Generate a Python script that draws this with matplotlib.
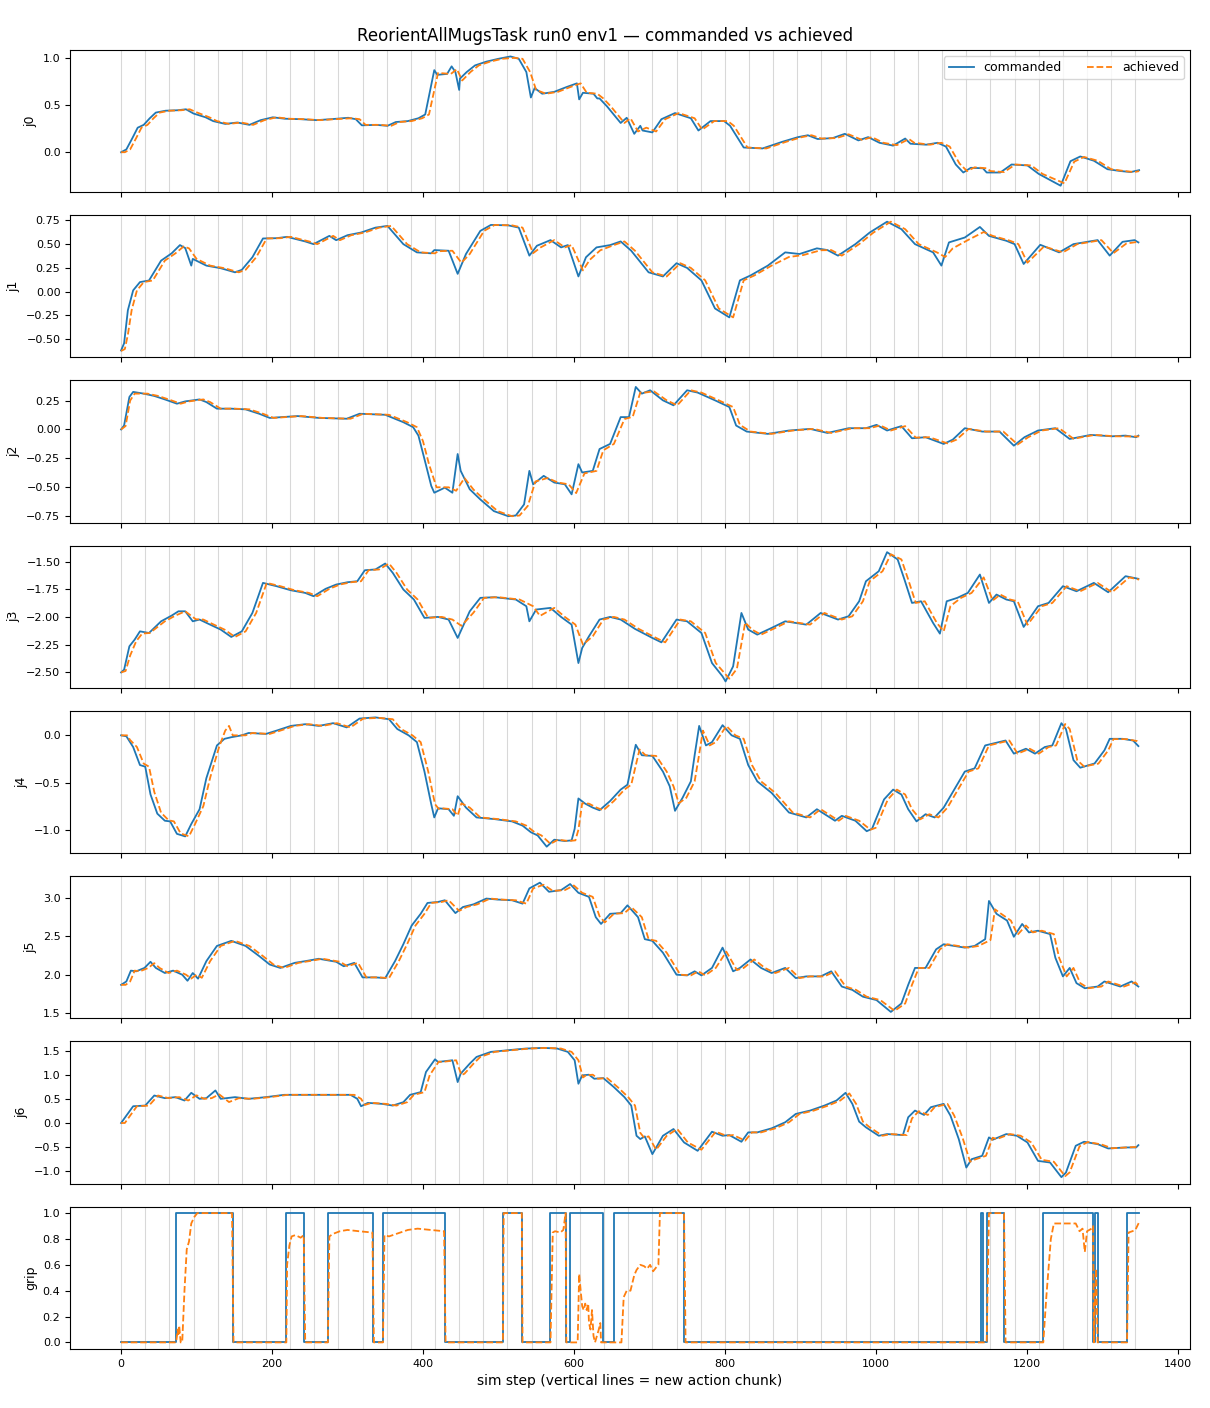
import numpy as np
import matplotlib
matplotlib.use('Agg')
import matplotlib.pyplot as plt

# ── Run info ───────────────────────────────────────────────────────────────
TASK = 'ReorientAllMugsTask'
RUN, ENV = 0, 1
N_STEPS = 1350
CHUNK_LEN = 32

# ── Joint traces (step, value) ───────────────────────
j0_cmd_t = [0, 7, 15, 22, 30, 38, 46, 59, 75, 86, 96, 112, 122, 138, 154, 170, 185, 201, 217, 238,
            259, 278, 301, 311, 319, 338, 353, 364, 380, 394, 403, 415, 419, 432, 438, 443, 448, 449, 458, 469,
            484, 500, 516, 527, 537, 543, 548, 558, 574, 590, 604, 607, 612, 626, 631, 634, 644, 662, 670, 680,
            688, 691, 704, 716, 734, 755, 765, 781, 799, 807, 825, 850, 876, 897, 910, 923, 943, 959, 977, 990,
            1005, 1023, 1039, 1046, 1067, 1082, 1093, 1106, 1116, 1126, 1142, 1147, 1165, 1180, 1201, 1216, 1245, 1258, 1271, 1289,
            1307, 1325, 1338, 1349]
j0_cmd = [0.0, 0.03, 0.15, 0.26, 0.29, 0.36, 0.42, 0.44, 0.445, 0.455, 0.41, 0.37, 0.33, 0.30, 0.315, 0.29, 0.34, 0.37, 0.355, 0.35,
          0.34, 0.35, 0.365, 0.35, 0.285, 0.29, 0.28, 0.32, 0.33, 0.36, 0.40, 0.87, 0.82, 0.83, 0.91, 0.85, 0.66, 0.78, 0.85, 0.92,
          0.96, 0.99, 1.015, 0.99, 0.85, 0.58, 0.68, 0.62, 0.64, 0.69, 0.73, 0.56, 0.63, 0.62, 0.57, 0.57, 0.485, 0.31, 0.365, 0.195,
          0.28, 0.23, 0.21, 0.35, 0.415, 0.36, 0.23, 0.33, 0.33, 0.28, 0.05, 0.04, 0.11, 0.16, 0.18, 0.14, 0.15, 0.195, 0.125, 0.16,
          0.10, 0.07, 0.145, 0.09, 0.08, 0.10, 0.06, -0.13, -0.215, -0.165, -0.17, -0.215, -0.215, -0.13, -0.14, -0.23, -0.355, -0.095, -0.045, -0.09,
          -0.18, -0.2, -0.21, -0.19]
j0_ach_t = [0, 5, 12, 20, 27, 35, 43, 51, 64, 80, 91, 101, 117, 127, 143, 159, 175, 190, 206, 222,
            243, 264, 283, 306, 316, 324, 343, 358, 369, 385, 399, 408, 420, 437, 445, 452, 463, 474, 489, 505,
            521, 532, 542, 550, 563, 579, 595, 609, 617, 631, 639, 649, 667, 675, 685, 696, 709, 721, 739, 760,
            770, 786, 804, 812, 830, 855, 881, 902, 915, 928, 948, 964, 982, 995, 1010, 1028, 1044, 1051, 1072, 1087,
            1098, 1111, 1121, 1131, 1147, 1152, 1170, 1185, 1206, 1221, 1250, 1263, 1276, 1294, 1312, 1330, 1343, 1349]
j0_ach = [0.0, 0.0, 0.03, 0.15, 0.26, 0.29, 0.36, 0.42, 0.44, 0.445, 0.455, 0.42, 0.37, 0.33, 0.30, 0.315, 0.29, 0.34, 0.37, 0.355,
          0.35, 0.34, 0.35, 0.36, 0.35, 0.29, 0.29, 0.28, 0.32, 0.33, 0.36, 0.40, 0.84, 0.83, 0.88, 0.76, 0.85, 0.92, 0.96, 0.99,
          1.0, 0.99, 0.85, 0.66, 0.62, 0.64, 0.69, 0.73, 0.63, 0.62, 0.57, 0.485, 0.31, 0.36, 0.22, 0.26, 0.22, 0.35, 0.415, 0.36,
          0.24, 0.33, 0.33, 0.28, 0.05, 0.04, 0.11, 0.16, 0.18, 0.145, 0.15, 0.19, 0.13, 0.16, 0.10, 0.075, 0.14, 0.10, 0.08, 0.10,
          0.06, -0.12, -0.20, -0.16, -0.17, -0.20, -0.21, -0.13, -0.14, -0.23, -0.33, -0.10, -0.05, -0.09, -0.18, -0.2, -0.21, -0.2]

j1_cmd_t = [0, 4, 9, 16, 25, 37, 53, 67, 78, 85, 93, 95, 113, 132, 151, 160, 174, 188, 206, 220,
            244, 255, 276, 285, 300, 318, 337, 353, 374, 392, 411, 415, 434, 446, 457, 476, 490, 513, 527, 541,
            551, 569, 583, 592, 606, 616, 630, 648, 662, 676, 699, 718, 736, 750, 769, 787, 806, 820, 834, 857,
            880, 899, 922, 936, 950, 973, 992, 1015, 1034, 1052, 1076, 1087, 1097, 1118, 1138, 1150, 1173, 1184, 1196, 1218,
            1243, 1262, 1294, 1310, 1327, 1343, 1348]
j1_cmd = [-0.615, -0.54, -0.195, 0.012, 0.098, 0.115, 0.322, 0.398, 0.484, 0.453, 0.27, 0.34, 0.27, 0.243, 0.2, 0.226, 0.357, 0.553, 0.556, 0.57,
          0.522, 0.494, 0.58, 0.535, 0.587, 0.615, 0.666, 0.684, 0.494, 0.408, 0.398, 0.432, 0.425, 0.184, 0.391, 0.632, 0.694, 0.69, 0.666, 0.374,
          0.477, 0.536, 0.46, 0.484, 0.157, 0.357, 0.46, 0.484, 0.522, 0.425, 0.2, 0.157, 0.295, 0.246, 0.116, -0.177, -0.27, 0.116, 0.167, 0.27,
          0.408, 0.391, 0.45, 0.432, 0.374, 0.494, 0.615, 0.728, 0.65, 0.494, 0.408, 0.27, 0.512, 0.563, 0.673, 0.58, 0.529, 0.494, 0.287, 0.487,
          0.408, 0.494, 0.536, 0.374, 0.518, 0.536, 0.512]
j1_ach_t = [0, 5, 9, 14, 21, 30, 42, 58, 72, 83, 90, 100, 118, 137, 156, 165, 179, 193, 211, 225,
            249, 260, 281, 290, 305, 323, 342, 358, 379, 397, 416, 420, 439, 451, 462, 481, 495, 518, 532, 546,
            556, 574, 588, 597, 612, 621, 635, 653, 667, 681, 704, 723, 741, 755, 774, 792, 811, 825, 839, 862,
            885, 904, 927, 941, 955, 978, 997, 1020, 1039, 1057, 1081, 1092, 1102, 1123, 1143, 1155, 1178, 1189, 1201, 1223,
            1248, 1267, 1299, 1315, 1332, 1349]
j1_ach = [-0.62, -0.6, -0.45, -0.195, 0.012, 0.098, 0.115, 0.322, 0.398, 0.47, 0.45, 0.34, 0.27, 0.243, 0.2, 0.226, 0.357, 0.553, 0.556, 0.57,
          0.522, 0.494, 0.58, 0.535, 0.587, 0.615, 0.666, 0.684, 0.494, 0.408, 0.398, 0.42, 0.425, 0.30, 0.391, 0.632, 0.694, 0.69, 0.666, 0.40,
          0.46, 0.536, 0.46, 0.484, 0.22, 0.33, 0.43, 0.484, 0.522, 0.425, 0.2, 0.157, 0.295, 0.246, 0.116, -0.177, -0.27, 0.116, 0.167, 0.27,
          0.36, 0.38, 0.43, 0.432, 0.374, 0.494, 0.615, 0.728, 0.65, 0.494, 0.408, 0.36, 0.45, 0.54, 0.62, 0.58, 0.529, 0.494, 0.3, 0.47,
          0.408, 0.494, 0.536, 0.40, 0.50, 0.52]

j2_cmd_t = [0, 4, 11, 16, 30, 44, 58, 74, 85, 104, 113, 127, 146, 165, 183, 197, 234, 262, 299, 316,
            350, 374, 387, 394, 402, 411, 415, 429, 439, 446, 450, 462, 476, 494, 513, 523, 534, 541, 546, 560,
            574, 588, 597, 606, 611, 625, 634, 648, 662, 673, 682, 690, 701, 718, 732, 750, 764, 787, 806, 815,
            829, 857, 885, 913, 936, 964, 987, 1001, 1015, 1034, 1048, 1066, 1090, 1102, 1118, 1141, 1164, 1183, 1197, 1215,
            1238, 1257, 1285, 1313, 1331, 1345, 1348]
j2_cmd = [0.0, 0.035, 0.281, 0.325, 0.31, 0.29, 0.26, 0.223, 0.243, 0.26, 0.237, 0.18, 0.18, 0.174, 0.136, 0.1, 0.116, 0.1, 0.093, 0.136,
          0.127, 0.063, 0.02, -0.053, -0.256, -0.488, -0.547, -0.503, -0.547, -0.212, -0.358, -0.517, -0.605, -0.706, -0.75, -0.744, -0.648, -0.358, -0.474, -0.401,
          -0.459, -0.474, -0.561, -0.3, -0.372, -0.358, -0.169, -0.125, 0.107, 0.107, 0.368, 0.31, 0.339, 0.252, 0.209, 0.339, 0.319, 0.252, 0.194, 0.034,
          -0.018, -0.038, -0.009, 0.005, -0.03, 0.011, 0.011, 0.04, -0.009, 0.029, -0.076, -0.067, -0.125, -0.088, 0.011, -0.018, -0.018, -0.14, -0.067, -0.009,
          0.011, -0.082, -0.047, -0.059, -0.053, -0.067, -0.053]
j2_ach_t = [0, 6, 12, 18, 35, 49, 63, 79, 90, 109, 118, 132, 151, 170, 188, 202, 239, 267, 304, 321,
            355, 379, 392, 400, 408, 418, 425, 434, 444, 455, 467, 481, 499, 518, 528, 539, 549, 565, 579, 593,
            603, 614, 630, 639, 653, 667, 678, 688, 695, 706, 723, 737, 755, 769, 792, 811, 820, 834, 862, 890,
            918, 941, 969, 992, 1006, 1020, 1039, 1053, 1071, 1095, 1107, 1123, 1146, 1169, 1188, 1202, 1220, 1243, 1262, 1290,
            1318, 1336, 1349]
j2_ach = [0.0, 0.03, 0.25, 0.31, 0.31, 0.29, 0.26, 0.223, 0.243, 0.26, 0.237, 0.18, 0.18, 0.174, 0.136, 0.1, 0.116, 0.1, 0.093, 0.136,
          0.127, 0.063, 0.02, -0.1, -0.3, -0.5, -0.5, -0.5, -0.53, -0.42, -0.52, -0.605, -0.706, -0.75, -0.744, -0.66, -0.45, -0.42, -0.459, -0.474,
          -0.55, -0.38, -0.358, -0.18, -0.125, 0.09, 0.11, 0.32, 0.32, 0.33, 0.252, 0.209, 0.339, 0.319, 0.252, 0.194, 0.04, -0.018, -0.038, -0.009,
          0.005, -0.03, 0.011, 0.011, 0.035, -0.009, 0.029, -0.07, -0.067, -0.12, -0.088, 0.005, -0.018, -0.018, -0.13, -0.067, -0.009, 0.011, -0.08, -0.047,
          -0.059, -0.06, -0.06]

j3_cmd_t = [0, 4, 11, 18, 25, 37, 53, 67, 76, 85, 95, 104, 118, 132, 146, 160, 174, 188, 206, 225,
            244, 255, 271, 285, 300, 313, 323, 337, 350, 360, 374, 388, 402, 420, 434, 446, 462, 476, 495, 523,
            537, 541, 550, 569, 583, 597, 606, 611, 620, 634, 648, 662, 681, 704, 716, 736, 750, 769, 783, 797,
            801, 811, 822, 831, 843, 862, 880, 908, 927, 950, 964, 978, 987, 1004, 1015, 1029, 1038, 1048, 1060, 1076,
            1085, 1094, 1108, 1122, 1138, 1150, 1160, 1173, 1183, 1196, 1215, 1229, 1248, 1266, 1289, 1308, 1331, 1348]
j3_cmd = [-2.503, -2.478, -2.266, -2.205, -2.13, -2.145, -2.039, -1.987, -1.948, -1.948, -2.039, -2.023, -2.069, -2.114, -2.181, -2.13, -1.963, -1.69, -1.72, -1.757,
          -1.781, -1.811, -1.744, -1.705, -1.684, -1.675, -1.575, -1.568, -1.514, -1.599, -1.75, -1.841, -2.008, -1.999, -2.023, -2.19, -1.948, -1.826, -1.82, -1.841,
          -1.902, -2.039, -1.932, -1.917, -1.999, -2.069, -2.418, -2.281, -2.175, -2.023, -1.999, -2.023, -2.108, -2.19, -2.23, -2.023, -2.039, -2.145, -2.418, -2.539,
          -2.585, -2.448, -1.963, -2.114, -2.16, -2.099, -2.039, -2.069, -1.963, -2.023, -1.993, -1.857, -1.675, -1.584, -1.411, -1.477, -1.659, -1.872, -1.857, -2.054,
          -2.151, -1.857, -1.826, -1.781, -1.614, -1.872, -1.796, -1.841, -1.857, -2.09, -1.902, -1.872, -1.72, -1.766, -1.69, -1.775, -1.629, -1.653]
j3_ach_t = [0, 6, 12, 20, 28, 38, 58, 72, 85, 99, 109, 123, 137, 151, 165, 179, 193, 211, 230, 249,
            260, 276, 290, 305, 318, 328, 342, 355, 365, 379, 393, 407, 425, 439, 451, 467, 481, 500, 528, 546,
            555, 574, 588, 602, 612, 625, 639, 653, 667, 686, 709, 721, 741, 755, 774, 788, 806, 816, 827, 836,
            848, 867, 885, 913, 932, 955, 969, 983, 992, 1009, 1020, 1034, 1043, 1053, 1065, 1081, 1090, 1099, 1113, 1127,
            1143, 1155, 1165, 1178, 1188, 1201, 1220, 1234, 1253, 1271, 1294, 1313, 1336, 1349]
j3_ach = [-2.503, -2.49, -2.35, -2.22, -2.15, -2.145, -2.039, -1.987, -1.948, -2.02, -2.023, -2.069, -2.114, -2.181, -2.13, -1.963, -1.69, -1.72, -1.757, -1.781,
          -1.811, -1.744, -1.705, -1.684, -1.675, -1.575, -1.568, -1.514, -1.599, -1.75, -1.841, -2.008, -1.999, -2.023, -2.08, -1.96, -1.826, -1.82, -1.841, -1.902,
          -1.99, -1.917, -1.999, -2.069, -2.25, -2.175, -2.023, -1.999, -2.023, -2.108, -2.19, -2.23, -2.023, -2.039, -2.145, -2.418, -2.56, -2.47, -2.05, -2.114,
          -2.16, -2.099, -2.039, -2.069, -1.963, -2.023, -1.993, -1.857, -1.675, -1.584, -1.43, -1.477, -1.659, -1.872, -1.857, -2.054, -2.13, -1.9, -1.826, -1.781,
          -1.64, -1.85, -1.796, -1.841, -1.857, -2.07, -1.902, -1.872, -1.72, -1.766, -1.69, -1.775, -1.64, -1.66]

j4_cmd_t = [0, 7, 16, 25, 32, 39, 48, 58, 65, 74, 85, 93, 104, 113, 127, 137, 146, 160, 169, 192,
            206, 225, 244, 262, 281, 299, 316, 337, 355, 366, 381, 392, 402, 411, 415, 420, 434, 441, 446, 457,
            471, 495, 518, 532, 543, 552, 564, 574, 588, 597, 601, 606, 615, 625, 634, 648, 662, 671, 682, 690,
            704, 718, 727, 734, 744, 755, 760, 766, 775, 783, 797, 809, 820, 831, 843, 862, 885, 908, 922, 946,
            955, 973, 988, 995, 1011, 1023, 1034, 1043, 1054, 1066, 1078, 1090, 1104, 1118, 1131, 1145, 1159, 1172, 1183, 1199,
            1211, 1224, 1234, 1246, 1252, 1262, 1271, 1290, 1303, 1310, 1327, 1341, 1348]
j4_cmd = [0.0, -0.01, -0.124, -0.315, -0.332, -0.627, -0.83, -0.905, -0.912, -1.044, -1.071, -0.94, -0.783, -0.454, -0.107, -0.037, -0.02, 0.0, 0.025, 0.015,
          0.05, 0.1, 0.118, 0.1, 0.129, 0.084, 0.178, 0.19, 0.171, 0.067, 0.0, -0.072, -0.384, -0.73, -0.87, -0.773, -0.783, -0.853, -0.645, -0.766,
          -0.87, -0.888, -0.912, -0.957, -1.027, -1.061, -1.18, -1.106, -1.12, -1.113, -0.991, -0.669, -0.724, -0.766, -0.794, -0.696, -0.575, -0.523, -0.1, -0.211,
          -0.218, -0.384, -0.54, -0.8, -0.662, -0.488, -0.211, 0.1, -0.107, -0.072, 0.108, 0.0, -0.037, -0.315, -0.488, -0.61, -0.818, -0.87, -0.783, -0.905,
          -0.853, -0.905, -1.016, -0.991, -0.679, -0.575, -0.627, -0.783, -0.912, -0.836, -0.87, -0.766, -0.575, -0.384, -0.35, -0.107, -0.08, -0.055, -0.194, -0.142,
          -0.194, -0.124, -0.107, 0.129, 0.067, -0.263, -0.343, -0.298, -0.159, -0.037, -0.037, -0.055, -0.114]
j4_ach_t = [0, 8, 12, 21, 30, 37, 44, 53, 63, 70, 79, 90, 98, 109, 118, 130, 138, 143, 148, 165,
            174, 197, 211, 230, 249, 267, 286, 304, 321, 342, 360, 371, 386, 397, 407, 416, 421, 425, 439, 446,
            451, 462, 476, 500, 523, 537, 548, 557, 569, 579, 593, 602, 606, 611, 620, 630, 639, 653, 667, 676,
            687, 695, 709, 723, 732, 739, 749, 760, 765, 771, 780, 788, 802, 814, 825, 836, 848, 867, 890, 913,
            927, 951, 960, 978, 993, 1000, 1016, 1028, 1039, 1048, 1059, 1071, 1083, 1095, 1109, 1123, 1136, 1150, 1164, 1177,
            1188, 1204, 1216, 1229, 1239, 1251, 1257, 1267, 1276, 1295, 1308, 1315, 1332, 1346, 1349]
j4_ach = [0.0, 0.0, -0.05, -0.124, -0.3, -0.332, -0.6, -0.82, -0.9, -0.912, -1.04, -1.07, -0.94, -0.75, -0.45, -0.12, 0.05, 0.1, 0.0, 0.0,
          0.025, 0.015, 0.05, 0.1, 0.118, 0.1, 0.129, 0.084, 0.178, 0.185, 0.171, 0.067, 0.0, -0.072, -0.384, -0.73, -0.78, -0.773, -0.783, -0.85,
          -0.72, -0.766, -0.87, -0.888, -0.912, -0.957, -1.027, -1.061, -1.15, -1.106, -1.12, -1.113, -1.0, -0.72, -0.724, -0.766, -0.794, -0.696, -0.575, -0.523,
          -0.15, -0.211, -0.218, -0.384, -0.54, -0.72, -0.662, -0.488, -0.25, 0.05, -0.107, -0.072, 0.1, 0.0, -0.037, -0.315, -0.488, -0.61, -0.818, -0.87,
          -0.783, -0.905, -0.853, -0.905, -1.0, -0.98, -0.68, -0.575, -0.627, -0.783, -0.89, -0.836, -0.87, -0.766, -0.575, -0.384, -0.35, -0.107, -0.08, -0.055,
          -0.194, -0.142, -0.194, -0.124, -0.107, 0.12, 0.067, -0.263, -0.33, -0.3, -0.16, -0.04, -0.04, -0.06, -0.08]

j5_cmd_t = [0, 7, 13, 20, 31, 39, 46, 58, 69, 81, 88, 95, 102, 113, 127, 146, 165, 183, 197, 211,
            230, 244, 262, 285, 295, 309, 320, 337, 350, 363, 374, 385, 397, 406, 420, 429, 443, 453, 467, 484,
            499, 518, 532, 541, 555, 567, 583, 595, 606, 620, 629, 636, 648, 662, 671, 685, 694, 704, 718, 736,
            750, 760, 769, 783, 797, 811, 820, 834, 848, 862, 880, 894, 908, 927, 941, 955, 969, 983, 1001, 1020,
            1034, 1043, 1052, 1066, 1080, 1090, 1104, 1118, 1131, 1145, 1150, 1160, 1174, 1183, 1194, 1203, 1215, 1231, 1238, 1248,
            1257, 1266, 1277, 1294, 1303, 1324, 1339, 1348]
j5_cmd = [1.868, 1.912, 2.053, 2.044, 2.088, 2.168, 2.088, 2.022, 2.053, 2.0, 1.921, 2.022, 1.948, 2.176, 2.374, 2.44, 2.374, 2.242, 2.132, 2.088,
          2.154, 2.176, 2.207, 2.168, 2.11, 2.154, 1.965, 1.965, 1.956, 2.176, 2.396, 2.638, 2.792, 2.933, 2.946, 2.968, 2.801, 2.88, 2.915, 2.99,
          2.977, 2.968, 2.924, 3.122, 3.197, 3.078, 3.1, 3.179, 3.065, 3.012, 2.748, 2.66, 2.792, 2.801, 2.902, 2.748, 2.462, 2.44, 2.286, 2.0,
          1.991, 2.044, 1.991, 2.088, 2.352, 2.044, 2.088, 2.198, 2.088, 2.022, 2.088, 1.956, 1.978, 1.978, 2.044, 1.846, 1.802, 1.714, 1.67, 1.516,
          1.626, 1.868, 2.088, 2.088, 2.33, 2.396, 2.374, 2.352, 2.374, 2.462, 2.959, 2.792, 2.704, 2.493, 2.66, 2.55, 2.572, 2.528, 2.22, 1.978,
          2.088, 1.89, 1.824, 1.846, 1.912, 1.846, 1.912, 1.846]
j5_ach_t = [0, 6, 12, 18, 25, 36, 44, 51, 63, 74, 86, 93, 100, 107, 118, 132, 151, 170, 188, 202,
            216, 235, 249, 267, 290, 300, 314, 325, 342, 355, 368, 379, 390, 402, 411, 425, 434, 448, 458, 472,
            489, 504, 523, 537, 546, 560, 572, 588, 600, 611, 625, 634, 641, 653, 667, 676, 690, 699, 709, 723,
            741, 755, 765, 774, 788, 802, 816, 825, 839, 853, 867, 885, 899, 913, 932, 946, 960, 974, 988, 1006,
            1025, 1039, 1048, 1057, 1071, 1085, 1095, 1109, 1123, 1136, 1152, 1158, 1165, 1179, 1188, 1199, 1208, 1220, 1236, 1243,
            1253, 1262, 1271, 1282, 1299, 1308, 1329, 1344, 1349]
j5_ach = [1.868, 1.868, 1.912, 2.053, 2.044, 2.088, 2.15, 2.088, 2.022, 2.053, 2.0, 1.95, 2.0, 1.96, 2.176, 2.374, 2.44, 2.374, 2.242, 2.132,
          2.088, 2.154, 2.176, 2.207, 2.168, 2.11, 2.154, 1.965, 1.965, 1.956, 2.176, 2.396, 2.638, 2.792, 2.933, 2.946, 2.968, 2.83, 2.88, 2.915,
          2.99, 2.977, 2.968, 2.924, 3.122, 3.17, 3.09, 3.1, 3.16, 3.065, 3.012, 2.76, 2.68, 2.792, 2.801, 2.88, 2.748, 2.462, 2.44, 2.286,
          2.0, 1.991, 2.044, 1.991, 2.088, 2.3, 2.06, 2.088, 2.198, 2.088, 2.022, 2.088, 1.956, 1.978, 1.978, 2.044, 1.846, 1.802, 1.714, 1.67,
          1.53, 1.626, 1.868, 2.088, 2.088, 2.33, 2.396, 2.374, 2.352, 2.374, 2.45, 2.85, 2.8, 2.704, 2.52, 2.64, 2.55, 2.572, 2.528, 2.22,
          1.978, 2.088, 1.89, 1.824, 1.846, 1.912, 1.846, 1.9, 1.85]

j6_cmd_t = [0, 7, 16, 32, 44, 58, 72, 84, 93, 104, 113, 125, 132, 151, 169, 192, 216, 244, 271, 304,
            313, 318, 327, 346, 360, 374, 383, 397, 404, 416, 420, 439, 446, 450, 462, 471, 490, 513, 536, 560,
            578, 592, 601, 606, 611, 620, 627, 639, 653, 667, 676, 683, 688, 694, 704, 718, 732, 746, 764, 783,
            797, 806, 822, 831, 843, 862, 880, 894, 913, 932, 948, 960, 969, 978, 987, 1004, 1015, 1036, 1043, 1052,
            1064, 1073, 1090, 1099, 1110, 1120, 1127, 1141, 1150, 1155, 1173, 1187, 1201, 1215, 1231, 1246, 1252, 1265, 1276, 1294,
            1308, 1331, 1345, 1348]
j6_cmd = [0.005, 0.158, 0.353, 0.367, 0.576, 0.521, 0.542, 0.472, 0.632, 0.507, 0.521, 0.681, 0.507, 0.542, 0.507, 0.542, 0.59, 0.59, 0.59, 0.59,
          0.507, 0.353, 0.423, 0.402, 0.367, 0.437, 0.59, 0.646, 1.064, 1.328, 1.273, 1.308, 0.855, 1.029, 1.238, 1.377, 1.482, 1.517, 1.551, 1.565,
          1.551, 1.482, 1.308, 0.82, 0.994, 1.008, 0.924, 0.938, 0.75, 0.542, 0.367, -0.26, -0.329, -0.273, -0.642, -0.26, -0.12, -0.399, -0.573, -0.176,
          -0.26, -0.246, -0.385, -0.19, -0.19, -0.106, 0.02, 0.193, 0.263, 0.367, 0.472, 0.632, 0.402, 0.033, -0.085, -0.26, -0.225, -0.246, 0.124, 0.263,
          0.172, 0.333, 0.402, 0.158, -0.329, -0.921, -0.747, -0.677, -0.294, -0.343, -0.225, -0.26, -0.399, -0.782, -0.816, -1.12, -1.025, -0.468, -0.385, -0.434,
          -0.524, -0.503, -0.503, -0.455]
j6_ach_t = [0, 5, 12, 21, 37, 49, 63, 77, 89, 100, 110, 120, 130, 143, 156, 174, 197, 221, 249, 276,
            309, 318, 323, 332, 351, 365, 379, 388, 402, 409, 421, 425, 444, 451, 455, 467, 476, 495, 518, 541,
            565, 583, 597, 606, 612, 616, 625, 632, 644, 658, 672, 681, 688, 693, 699, 709, 723, 737, 751, 769,
            788, 802, 811, 827, 836, 848, 867, 885, 899, 918, 937, 953, 965, 974, 983, 992, 1009, 1020, 1041, 1048,
            1057, 1069, 1078, 1095, 1104, 1115, 1125, 1132, 1146, 1155, 1160, 1178, 1192, 1206, 1220, 1236, 1251, 1257, 1270, 1281,
            1299, 1313, 1336, 1349]
j6_ach = [0.005, 0.005, 0.158, 0.353, 0.367, 0.576, 0.521, 0.542, 0.472, 0.58, 0.507, 0.521, 0.6, 0.44, 0.52, 0.507, 0.542, 0.59, 0.59, 0.59,
          0.59, 0.507, 0.38, 0.423, 0.402, 0.367, 0.437, 0.59, 0.646, 1.0, 1.28, 1.273, 1.308, 1.0, 1.029, 1.238, 1.377, 1.482, 1.517, 1.551,
          1.565, 1.551, 1.482, 1.308, 0.95, 0.994, 1.008, 0.924, 0.938, 0.75, 0.542, 0.367, -0.2, -0.3, -0.273, -0.55, -0.26, -0.12, -0.399, -0.55,
          -0.176, -0.26, -0.246, -0.36, -0.19, -0.19, -0.106, 0.02, 0.193, 0.263, 0.367, 0.472, 0.62, 0.402, 0.033, -0.085, -0.26, -0.225, -0.246, 0.1,
          0.25, 0.172, 0.333, 0.402, 0.158, -0.3, -0.8, -0.75, -0.677, -0.3, -0.33, -0.225, -0.26, -0.399, -0.76, -0.8, -1.1, -1.02, -0.48, -0.39,
          -0.44, -0.52, -0.5, -0.49]

# ── Gripper (commanded is binary; listed as switch steps) ─────────────────
grip_cmd_t = [0, 73, 148, 218, 243, 274, 334, 347, 429, 506, 531, 568, 589, 595, 639, 653, 746,
              1140, 1142, 1147, 1170, 1222, 1288, 1291, 1295, 1333, 1349]
grip_cmd = [0, 1, 0, 1, 0, 1, 0, 1, 0, 1, 0, 1, 0, 1, 0, 1, 0,
            1, 0, 1, 0, 1, 0, 1, 0, 1, 1]
grip_ach_t = [0, 73, 75, 76, 77, 79, 81, 84, 87, 90, 93, 97, 101, 147, 149, 219, 220, 223, 226, 231,
              238, 242, 244, 274, 276, 281, 290, 300, 315, 333, 335, 347, 349, 355, 365, 380, 393, 410, 428, 430,
              506, 507, 531, 532, 569, 572, 575, 582, 586, 589, 590, 605, 607, 609, 611, 613, 615, 617, 619, 620,
              622, 624, 626, 628, 633, 635, 636, 663, 666, 670, 675, 680, 683, 688, 693, 697, 701, 705, 709, 712,
              714, 746, 748, 1147, 1150, 1170, 1172, 1222, 1226, 1232, 1236, 1265, 1270, 1274, 1277, 1280, 1286, 1288, 1289, 1291,
              1292, 1294, 1333, 1335, 1340, 1344, 1349]
grip_ach = [0.0, 0.0, 0.1, 0.05, 0.13, 0.0, 0.0, 0.4, 0.72, 0.78, 0.92, 0.97, 1.0, 1.0, 0.0, 0.0, 0.6, 0.75, 0.82, 0.83,
            0.81, 0.83, 0.0, 0.0, 0.82, 0.84, 0.86, 0.87, 0.86, 0.85, 0.0, 0.0, 0.83, 0.82, 0.84, 0.87, 0.88, 0.87, 0.86, 0.0,
            0.0, 1.0, 1.0, 0.0, 0.0, 0.85, 0.86, 0.85, 0.87, 1.0, 0.0, 0.0, 0.53, 0.4, 0.28, 0.25, 0.3, 0.25, 0.3, 0.15,
            0.1, 0.25, 0.05, 0.0, 0.1, 0.15, 0.0, 0.0, 0.35, 0.4, 0.4, 0.52, 0.56, 0.6, 0.59, 0.57, 0.6, 0.55, 0.58, 0.6,
            1.0, 1.0, 0.0, 0.0, 1.0, 1.0, 0.0, 0.0, 0.35, 0.8, 0.92, 0.92, 0.86, 0.88, 0.7, 0.86, 0.88, 0.9, 0.0, 0.4,
            0.57, 0.0, 0.0, 0.85, 0.86, 0.87, 0.93]

JOINTS = [
    ('j0', j0_cmd_t, j0_cmd, j0_ach_t, j0_ach),
    ('j1', j1_cmd_t, j1_cmd, j1_ach_t, j1_ach),
    ('j2', j2_cmd_t, j2_cmd, j2_ach_t, j2_ach),
    ('j3', j3_cmd_t, j3_cmd, j3_ach_t, j3_ach),
    ('j4', j4_cmd_t, j4_cmd, j4_ach_t, j4_ach),
    ('j5', j5_cmd_t, j5_cmd, j5_ach_t, j5_ach),
    ('j6', j6_cmd_t, j6_cmd, j6_ach_t, j6_ach),
]


# ── Plot ───────────────────────────────────────────────────────────────────
def plot_tracking():
    fig, axes = plt.subplots(8, 1, figsize=(12.1, 14.08), dpi=100, sharex=True)
    fig.subplots_adjust(left=0.058, right=0.9835, top=0.9645, bottom=0.042, hspace=0.162)

    chunk_starts = range(0, N_STEPS, CHUNK_LEN)

    for ax, (name, ct, cv, at, av) in zip(axes[:7], JOINTS):
        for s in chunk_starts:
            ax.axvline(s, color='0.5', alpha=0.3, linewidth=0.8, zorder=0)
        ax.plot(ct, cv, color='#1f77b4', linewidth=1.3, label='commanded')
        ax.plot(at, av, color='#ff7f0e', linewidth=1.3, linestyle='--', label='achieved')
        ax.set_ylabel(name, fontsize=9)
        ax.tick_params(labelsize=8)

    # gripper
    ax = axes[7]
    for s in chunk_starts:
        ax.axvline(s, color='0.5', alpha=0.3, linewidth=0.8, zorder=0)
    ax.step(grip_cmd_t, grip_cmd, where='post', color='#1f77b4', linewidth=1.3, label='commanded')
    ax.plot(grip_ach_t, grip_ach, color='#ff7f0e', linewidth=1.3, linestyle='--', label='achieved')
    ax.set_ylabel('grip', fontsize=9)
    ax.tick_params(labelsize=8)
    ax.set_xlabel('sim step (vertical lines = new action chunk)', fontsize=10)

    axes[0].legend(loc='upper right', ncol=2, fontsize=9)
    fig.suptitle(f'{TASK} run{RUN} env{ENV} — commanded vs achieved',
                 fontsize=12, y=0.9745, va='center')

    fig.savefig('out.png', dpi=100)


if __name__ == '__main__':
    plot_tracking()
